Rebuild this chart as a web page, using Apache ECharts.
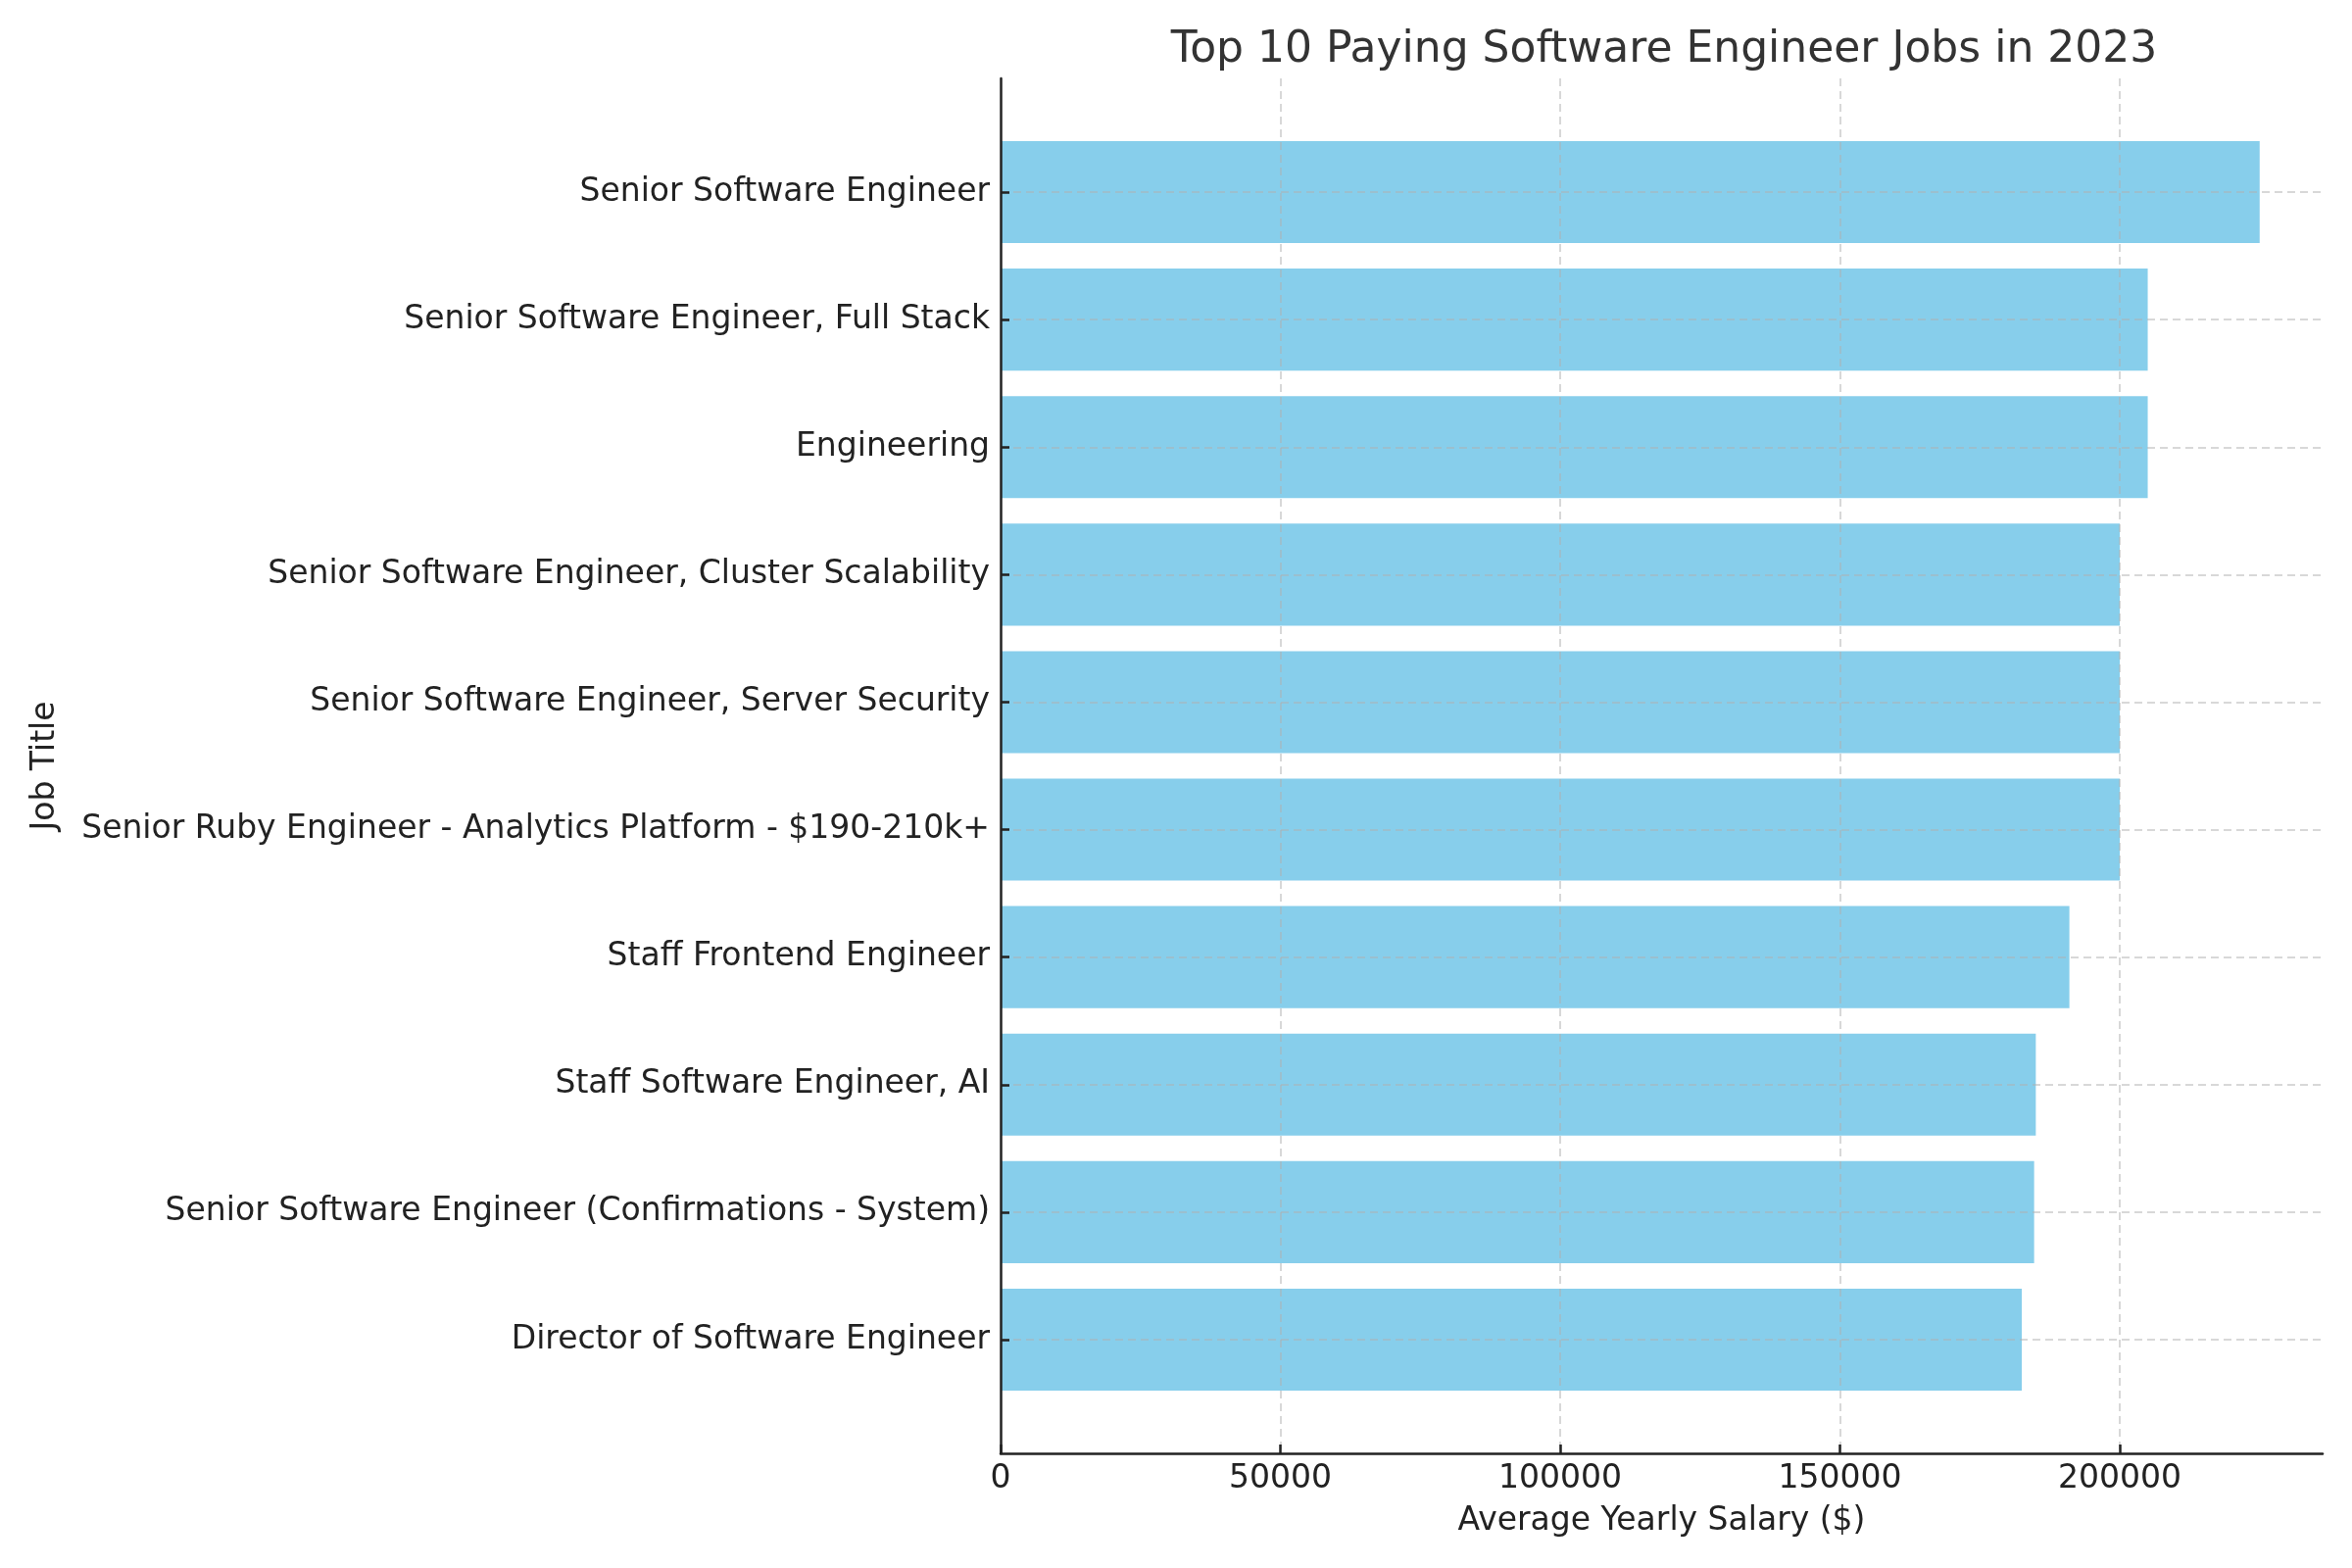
<!DOCTYPE html>
<html>
<head>
<meta charset="utf-8">
<script src="https://cdn.jsdelivr.net/npm/echarts@6/dist/echarts.min.js"></script>
<style>
  html, body { margin: 0; padding: 0; background: #fff; }
  #chart { width: 2400px; height: 1600px; }
</style>
</head>
<body>
<div id="chart"></div>
<script>
// job titles, top of chart first
var jobTitles = [
    'Senior Software Engineer',
    'Senior Software Engineer, Full Stack',
    'Engineering',
    'Senior Software Engineer, Cluster Scalability',
    'Senior Software Engineer, Server Security',
    'Senior Ruby Engineer - Analytics Platform - $190-210k+',
    'Staff Frontend Engineer',
    'Staff Software Engineer, AI',
    'Senior Software Engineer (Confirmations - System)',
    'Director of Software Engineer'
];
var avgSalary = [225000, 205000, 205000, 200000, 200000, 200000, 191000, 185000, 184700, 182500];
var xTicks = [0, 50000, 100000, 150000, 200000];

var xMax = 236250;
var font = 'DejaVu Sans';
var gridColor = 'rgba(176,176,176,0.65)';

var myChart = echarts.init(document.getElementById('chart'));

myChart.setOption({
    backgroundColor: '#fff',
    animation: false,
    textStyle: { fontFamily: font },
    title: {
        text: 'Top 10 Paying Software Engineer Jobs in 2023',
        left: 1693,
        top: 25,
        textAlign: 'center',
        textStyle: { fontFamily: font, fontSize: 44, fontWeight: 'normal', color: '#333' }
    },
    grid: [
        // full axes box (spines, x ticks, vertical grid)
        { left: 1021, right: 30, top: 80, bottom: 117 },
        // inner area for the bars (matplotlib margins)
        { left: 1021, right: 30, top: 131, bottom: 168 }
    ],
    xAxis: [{
        type: 'value',
        gridIndex: 0,
        min: 0,
        max: xMax,
        interval: 50000,
        z: 5,
        name: 'Average Yearly Salary ($)',
        nameLocation: 'middle',
        nameGap: 53,
        nameTextStyle: { fontFamily: font, fontSize: 33, color: '#222' },
        axisLine: { lineStyle: { color: '#222', width: 2.5 } },
        axisTick: { inside: true, length: 9, lineStyle: { color: '#222', width: 2.5 } },
        axisLabel: {
            margin: 10, fontSize: 33, color: '#222', fontFamily: font,
            showMaxLabel: false,
            formatter: function (v) { return xTicks.indexOf(v) >= 0 ? String(v) : ''; }
        },
        splitLine: {
            show: true, showMinLine: false, showMaxLine: false,
            lineStyle: { color: gridColor, width: 1.5, type: [8, 5] }
        }
    }, {
        type: 'value',
        gridIndex: 1,
        min: 0,
        max: xMax,
        show: false
    }],
    yAxis: [{
        type: 'value',
        gridIndex: 0,
        min: 0,
        max: 1,
        z: 6,
        name: 'Job Title',
        nameLocation: 'middle',
        nameGap: 958,
        nameTextStyle: { fontFamily: font, fontSize: 33, color: '#222' },
        axisLine: { show: true, lineStyle: { color: '#222', width: 2.5 } },
        axisTick: { show: false },
        axisLabel: { show: false },
        splitLine: { show: false }
    }, {
        type: 'category',
        gridIndex: 1,
        inverse: true,
        data: jobTitles,
        z: 6,
        axisLine: { show: false },
        axisTick: { show: true, inside: true, alignWithLabel: true, length: 9, lineStyle: { color: '#222', width: 2.5 } },
        axisLabel: { margin: 11, fontSize: 33, color: '#222', fontFamily: font, padding: [10, 0, 0, 0] },
        splitLine: { show: false }
    }],
    series: [{
        type: 'bar',
        xAxisIndex: 1,
        yAxisIndex: 1,
        data: avgSalary,
        barWidth: '80%',
        itemStyle: { color: '#87CEEB' },
        markLine: {
            silent: true,
            symbol: 'none',
            label: { show: false },
            lineStyle: { color: gridColor, width: 1.5, type: [8, 5] },
            data: jobTitles.map(function (t, i) { return { yAxis: i }; })
        }
    }]
});
</script>
</body>
</html>
